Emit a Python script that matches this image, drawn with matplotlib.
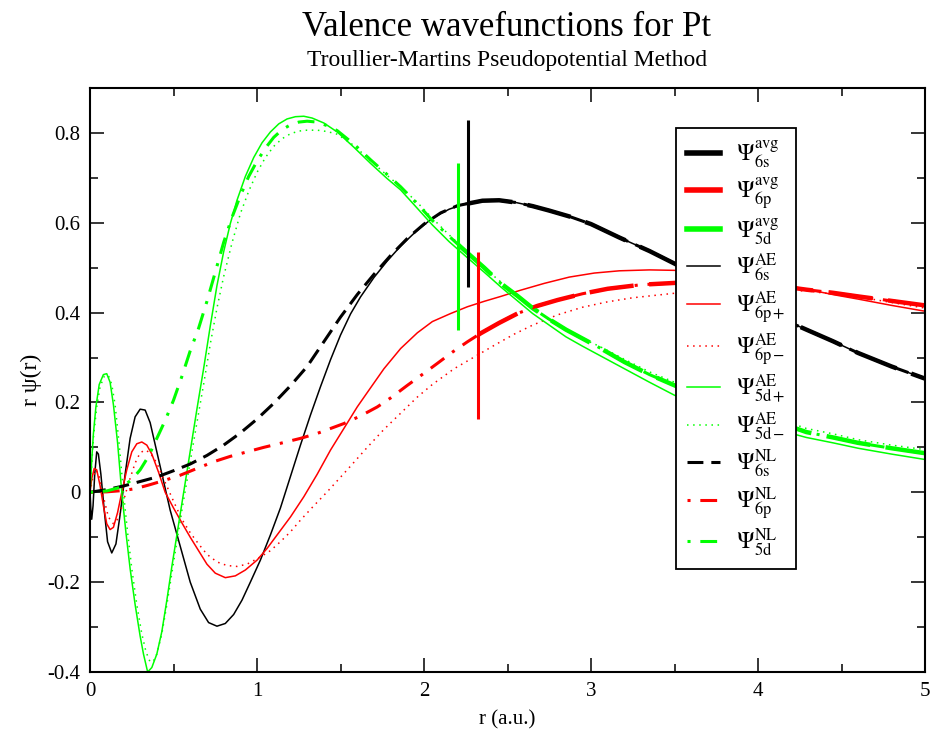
import numpy as np
import matplotlib.pyplot as plt
from matplotlib.lines import Line2D

plt.rcParams['font.family'] = ['Liberation Serif', 'DejaVu Serif']
plt.rcParams['mathtext.fontset'] = 'stix'

# r (a.u.), r*psi(r)
r_6s_ae = [0.0, 0.005, 0.01, 0.018, 0.028, 0.04, 0.05, 0.065, 0.085, 0.105, 0.13, 0.155, 0.18, 0.21, 0.24, 0.27,
           0.30, 0.33, 0.36, 0.40, 0.44, 0.48, 0.54, 0.60, 0.66, 0.71, 0.76, 0.81, 0.86, 0.91, 0.96, 1.02,
           1.08, 1.14, 1.20, 1.26, 1.32, 1.38, 1.44, 1.50, 1.56, 1.62, 1.70, 1.78, 1.86, 1.95, 2.05, 2.15,
           2.25, 2.35, 2.45, 2.55, 2.65, 2.75, 2.87, 3.00, 3.17, 3.35, 3.50, 3.65, 3.80, 4.00, 4.15, 4.29,
           4.45, 4.60, 4.80, 5.00]
y_6s_ae = [0.0, -0.04, -0.06, -0.03, 0.04, 0.09, 0.085, 0.04, -0.04, -0.11, -0.135, -0.115, -0.05, 0.04, 0.12, 0.168,
           0.185, 0.183, 0.155, 0.09, 0.025, -0.04, -0.12, -0.20, -0.26, -0.29, -0.298, -0.292, -0.272, -0.24, -0.20, -0.151,
           -0.095, -0.035, 0.035, 0.105, 0.172, 0.235, 0.295, 0.35, 0.397, 0.435, 0.478, 0.515, 0.548, 0.58, 0.61, 0.630,
           0.643, 0.649, 0.650, 0.645, 0.637, 0.627, 0.614, 0.597, 0.567, 0.537, 0.509, 0.48, 0.45, 0.41, 0.385, 0.362,
           0.336, 0.31, 0.28, 0.253]

r_6pp_ae = [0.0, 0.01, 0.025, 0.04, 0.06, 0.08, 0.10, 0.12, 0.14, 0.165, 0.19, 0.22, 0.25, 0.28, 0.31, 0.34,
            0.37, 0.41, 0.45, 0.50, 0.55, 0.60, 0.65, 0.70, 0.75, 0.81, 0.87, 0.93, 1.00, 1.06, 1.12, 1.20,
            1.28, 1.36, 1.44, 1.52, 1.60, 1.66, 1.76, 1.86, 1.96, 2.05, 2.16, 2.26, 2.36, 2.46, 2.58, 2.72,
            2.87, 3.02, 3.17, 3.35, 3.50, 3.65, 3.80, 4.00, 4.15, 4.29, 4.45, 4.60, 4.80, 5.00]
y_6pp_ae = [0.0, 0.03, 0.053, 0.05, 0.015, -0.03, -0.07, -0.083, -0.078, -0.045, 0.0, 0.05, 0.09, 0.108, 0.112, 0.105,
            0.085, 0.045, 0.0, -0.035, -0.068, -0.10, -0.13, -0.16, -0.18, -0.19, -0.186, -0.173, -0.151, -0.125, -0.095, -0.055,
            -0.01, 0.04, 0.094, 0.142, 0.19, 0.222, 0.275, 0.32, 0.355, 0.38, 0.398, 0.413, 0.425, 0.436, 0.45, 0.465,
            0.479, 0.488, 0.493, 0.495, 0.494, 0.49, 0.484, 0.473, 0.462, 0.452, 0.44, 0.43, 0.416, 0.403]

r_6pm_ae = [0.0, 0.015, 0.035, 0.055, 0.08, 0.11, 0.14, 0.17, 0.20, 0.23, 0.27, 0.30, 0.33, 0.36, 0.40, 0.45,
            0.50, 0.55, 0.60, 0.65, 0.70, 0.76, 0.82, 0.88, 0.94, 1.02, 1.08, 1.14, 1.20, 1.26, 1.34, 1.42,
            1.54, 1.66, 1.76, 1.86, 1.96, 2.05, 2.18, 2.30, 2.42, 2.54, 2.65, 2.80, 2.95, 3.10, 3.25, 3.50,
            3.80, 4.00, 4.29, 4.60, 5.00]
y_6pm_ae = [0.0, 0.03, 0.05, 0.035, -0.01, -0.055, -0.07, -0.058, -0.02, 0.02, 0.065, 0.088, 0.094, 0.088, 0.065, 0.022,
            -0.02, -0.06, -0.09, -0.115, -0.138, -0.155, -0.163, -0.165, -0.16, -0.144, -0.13, -0.11, -0.088, -0.062, -0.03, 0.001,
            0.05, 0.10, 0.14, 0.176, 0.212, 0.24, 0.275, 0.301, 0.327, 0.352, 0.372, 0.395, 0.412, 0.424, 0.433, 0.443,
            0.45, 0.452, 0.448, 0.435, 0.41]

r_5dp_ae = [0.0, 0.01, 0.02, 0.035, 0.055, 0.08, 0.10, 0.12, 0.14, 0.165, 0.19, 0.215, 0.24, 0.27, 0.30, 0.32,
            0.345, 0.37, 0.40, 0.43, 0.46, 0.49, 0.52, 0.55, 0.58, 0.61, 0.64, 0.68, 0.72, 0.76, 0.80, 0.84,
            0.88, 0.93, 0.98, 1.03, 1.08, 1.13, 1.18, 1.23, 1.28, 1.33, 1.40, 1.48, 1.58, 1.68, 1.78, 1.86,
            1.96, 2.05, 2.15, 2.26, 2.36, 2.46, 2.56, 2.65, 2.75, 2.85, 2.95, 3.05, 3.20, 3.35, 3.50, 3.65,
            3.80, 4.00, 4.15, 4.29, 4.45, 4.60, 4.80, 5.00]
y_5dp_ae = [0.0, 0.07, 0.13, 0.19, 0.24, 0.262, 0.264, 0.245, 0.195, 0.11, 0.0, -0.09, -0.17, -0.25, -0.32, -0.36,
            -0.40, -0.39, -0.36, -0.31, -0.24, -0.165, -0.095, -0.025, 0.045, 0.115, 0.185, 0.275, 0.37, 0.46, 0.535, 0.598,
            0.650, 0.703, 0.745, 0.778, 0.802, 0.82, 0.831, 0.836, 0.837, 0.833, 0.822, 0.802, 0.768, 0.732, 0.698, 0.673,
            0.632, 0.595, 0.558, 0.522, 0.49, 0.457, 0.426, 0.398, 0.372, 0.346, 0.325, 0.305, 0.275, 0.245, 0.216, 0.195,
            0.175, 0.15, 0.136, 0.122, 0.11, 0.098, 0.085, 0.073]

r_5dm_ae = [0.0, 0.01, 0.02, 0.04, 0.06, 0.085, 0.11, 0.13, 0.15, 0.175, 0.20, 0.225, 0.25, 0.28, 0.31, 0.335,
            0.36, 0.38, 0.40, 0.43, 0.46, 0.49, 0.52, 0.55, 0.58, 0.61, 0.64, 0.68, 0.72, 0.76, 0.80, 0.85,
            0.90, 0.95, 1.00, 1.05, 1.10, 1.15, 1.20, 1.25, 1.30, 1.36, 1.42, 1.48, 1.58, 1.68, 1.78, 1.86,
            1.96, 2.05, 2.15, 2.26, 2.36, 2.46, 2.56, 2.65, 2.75, 2.85, 2.95, 3.05, 3.20, 3.35, 3.50, 3.65,
            3.80, 4.00, 4.15, 4.29, 4.45, 4.60, 4.80, 5.00]
y_5dm_ae = [0.0, 0.06, 0.12, 0.19, 0.235, 0.258, 0.26, 0.24, 0.195, 0.105, 0.0, -0.09, -0.17, -0.25, -0.315, -0.355,
            -0.378, -0.375, -0.36, -0.315, -0.25, -0.18, -0.11, -0.04, 0.025, 0.09, 0.155, 0.24, 0.33, 0.41, 0.48, 0.555,
            0.62, 0.67, 0.712, 0.745, 0.77, 0.787, 0.798, 0.804, 0.806, 0.806, 0.803, 0.797, 0.772, 0.738, 0.705, 0.68,
            0.645, 0.61, 0.573, 0.535, 0.50, 0.468, 0.438, 0.41, 0.384, 0.36, 0.342, 0.325, 0.296, 0.268, 0.245, 0.222,
            0.202, 0.178, 0.16, 0.142, 0.13, 0.117, 0.105, 0.095]

r_6s_nl = [0.0, 0.1, 0.2, 0.3, 0.4, 0.5, 0.6, 0.7, 0.8, 0.9, 1.0, 1.1, 1.2, 1.3, 1.4, 1.5,
           1.6, 1.7, 1.8, 1.9, 2.0, 2.1, 2.2, 2.35, 2.45, 2.55, 2.65, 2.75, 2.87, 3.00, 3.17, 3.35,
           3.50, 3.65, 3.80, 4.00, 4.15, 4.29, 4.45, 4.60, 4.80, 5.00]
y_6s_nl = [0.0, 0.006, 0.014, 0.024, 0.034, 0.048, 0.063, 0.082, 0.105, 0.132, 0.163, 0.198, 0.237, 0.28, 0.335, 0.39,
           0.44, 0.485, 0.527, 0.565, 0.597, 0.622, 0.638, 0.649, 0.650, 0.645, 0.637, 0.627, 0.614, 0.597, 0.567, 0.537,
           0.509, 0.48, 0.45, 0.41, 0.385, 0.362, 0.336, 0.31, 0.28, 0.253]

r_6p_nl = [0.0, 0.1, 0.2, 0.27, 0.35, 0.45, 0.54, 0.64, 0.74, 0.84, 0.94, 1.04, 1.14, 1.26, 1.36, 1.44,
           1.52, 1.62, 1.72, 1.80, 1.90, 2.00, 2.08, 2.17, 2.26, 2.34, 2.45, 2.56, 2.68, 2.80, 2.95, 3.10,
           3.30, 3.50, 3.65, 3.80, 4.00, 4.15, 4.29, 4.45, 4.60, 4.80, 5.00]
y_6p_nl = [0.0, 0.001, 0.004, 0.008, 0.016, 0.027, 0.038, 0.053, 0.068, 0.08, 0.09, 0.10, 0.109, 0.12, 0.131, 0.142,
           0.153, 0.17, 0.19, 0.21, 0.238, 0.265, 0.287, 0.312, 0.335, 0.354, 0.377, 0.398, 0.415, 0.428, 0.442, 0.453,
           0.462, 0.466, 0.468, 0.468, 0.464, 0.458, 0.451, 0.444, 0.436, 0.426, 0.416]

r_5d_nl = [0.0, 0.1, 0.19, 0.25, 0.30, 0.35, 0.40, 0.45, 0.50, 0.55, 0.60, 0.65, 0.70, 0.75, 0.80, 0.85,
           0.90, 0.95, 1.00, 1.05, 1.10, 1.15, 1.20, 1.25, 1.30, 1.36, 1.42, 1.48, 1.58, 1.68, 1.78, 1.86,
           1.96, 2.05, 2.15, 2.22, 2.36, 2.46, 2.56, 2.65, 2.75, 2.85, 2.95, 3.05, 3.20, 3.35, 3.50, 3.65,
           3.80, 4.00, 4.15, 4.29, 4.45, 4.60, 4.80, 5.00]
y_5d_nl = [0.0, 0.003, 0.012, 0.028, 0.05, 0.08, 0.12, 0.16, 0.205, 0.258, 0.315, 0.365, 0.425, 0.49, 0.556, 0.612,
           0.66, 0.703, 0.737, 0.766, 0.79, 0.807, 0.818, 0.824, 0.826, 0.824, 0.816, 0.805, 0.775, 0.74, 0.707, 0.68,
           0.642, 0.605, 0.57, 0.546, 0.50, 0.465, 0.437, 0.41, 0.385, 0.362, 0.342, 0.322, 0.29, 0.262, 0.238, 0.215,
           0.195, 0.17, 0.152, 0.134, 0.122, 0.11, 0.098, 0.087]

# cutoff radii markers (6s, 6p, 5d)
rc = [2.265, 2.325, 2.206]
rc_lo = [0.457, 0.164, 0.361]
rc_hi = [0.828, 0.535, 0.732]

BLACK, RED, GREEN = '#000000', '#ff0000', '#00ff00'
dashed = (0, (5.2, 2.6))
dashdot = (0, (1, 3.2, 5.5, 3.2))
dotted = (0, (1, 3))
longdash = (0, (10, 3.5))

fig = plt.figure(figsize=(9.35, 7.31), dpi=100)
ax = fig.add_axes([0.0963, 0.0807, 0.893, 0.799])

# all-electron curves
ax.plot(r_6s_ae, y_6s_ae, color=BLACK, lw=1.1)
ax.plot(r_6pp_ae, y_6pp_ae, color=RED, lw=1.1)
ax.plot(r_6pm_ae, y_6pm_ae, color=RED, lw=1.1, ls=dotted)
ax.plot(r_5dp_ae, y_5dp_ae, color=GREEN, lw=1.1)
ax.plot(r_5dm_ae, y_5dm_ae, color=GREEN, lw=1.1, ls=dotted)

# averaged curves, only drawn beyond the cutoff
for r, y, c, cut in [(r_6s_nl, y_6s_nl, BLACK, rc[0]), (r_6p_nl, y_6p_nl, RED, rc[1]), (r_5d_nl, y_5d_nl, GREEN, rc[2])]:
    r = np.array(r)
    y = np.array(y)
    m = r >= cut
    ax.plot(np.r_[cut, r[m]], np.r_[np.interp(cut, r, y), y[m]], color=c, lw=3.2, ls=longdash)

# pseudo wavefunctions
ax.plot(r_6s_nl, y_6s_nl, color=BLACK, lw=2.2, ls=dashed)
ax.plot(r_6p_nl, y_6p_nl, color=RED, lw=2.2, ls=dashdot)
ax.plot(r_5d_nl, y_5d_nl, color=GREEN, lw=2.2, ls=dashdot)

ax.vlines(rc, rc_lo, rc_hi, colors=[BLACK, RED, GREEN], lw=2.2)

ax.set_xlim(0, 5)
ax.set_ylim(-0.4, 0.9)
ax.set_xticks(np.arange(0, 5.01, 1))
ax.set_xticks(np.arange(0, 5.01, 0.5), minor=True)
ax.set_yticks(np.arange(-0.4, 0.81, 0.2))
ax.set_yticks(np.arange(-0.4, 0.91, 0.1), minor=True)
ax.set_xticklabels(['0', '1', '2', '3', '4', '5'])
ax.set_yticklabels(['-0.4', '-0.2', '0', '0.2', '0.4', '0.6', '0.8'])
ax.tick_params(which='both', direction='in', top=True, right=True, width=1.1, labelsize=15)
ax.tick_params(which='major', length=10, pad=7)
ax.tick_params(which='minor', length=5.5)
for s in ax.spines.values():
    s.set_linewidth(1.5)

ax.set_xlabel('r (a.u.)', fontsize=15, labelpad=7)
ax.set_ylabel('r ψ(r)', fontsize=17, labelpad=4)

fig.text(0.5422, 0.962, 'Valence wavefunctions for Pt', ha='center', va='center', fontsize=25)
fig.text(0.5422, 0.917, 'Troullier-Martins Pseudopotential Method', ha='center', va='center', fontsize=17)

handles = [
    Line2D([], [], color=BLACK, lw=4),
    Line2D([], [], color=RED, lw=4),
    Line2D([], [], color=GREEN, lw=4),
    Line2D([], [], color=BLACK, lw=1.1),
    Line2D([], [], color=RED, lw=1.1),
    Line2D([], [], color=RED, lw=1.1, ls=dotted),
    Line2D([], [], color=GREEN, lw=1.1),
    Line2D([], [], color=GREEN, lw=1.1, ls=dotted),
    Line2D([], [], color=BLACK, lw=2.2, ls=dashed),
    Line2D([], [], color=RED, lw=2.2, ls=dashdot),
    Line2D([], [], color=GREEN, lw=2.2, ls=dashdot),
]
labels = [r'$\Psi_{\mathrm{6s}}^{\mathrm{avg}}$', r'$\Psi_{\mathrm{6p}}^{\mathrm{avg}}$', r'$\Psi_{\mathrm{5d}}^{\mathrm{avg}}$',
          r'$\Psi_{\mathrm{6s}}^{\mathrm{AE}}$', r'$\Psi_{\mathrm{6p+}}^{\mathrm{AE}}$', r'$\Psi_{\mathrm{6p-}}^{\mathrm{AE}}$',
          r'$\Psi_{\mathrm{5d+}}^{\mathrm{AE}}$', r'$\Psi_{\mathrm{5d-}}^{\mathrm{AE}}$',
          r'$\Psi_{\mathrm{6s}}^{\mathrm{NL}}$', r'$\Psi_{\mathrm{6p}}^{\mathrm{NL}}$', r'$\Psi_{\mathrm{5d}}^{\mathrm{NL}}$']
leg = ax.legend(handles, labels, loc='upper left', bbox_to_anchor=(0.702, 0.931), borderaxespad=0,
                fontsize=17, handlelength=1.4, handletextpad=0.7, borderpad=0.45, labelspacing=0.21,
                fancybox=False, framealpha=1, edgecolor='black')
leg.get_frame().set_linewidth(1.3)

fig.savefig('out.png', dpi=100)
